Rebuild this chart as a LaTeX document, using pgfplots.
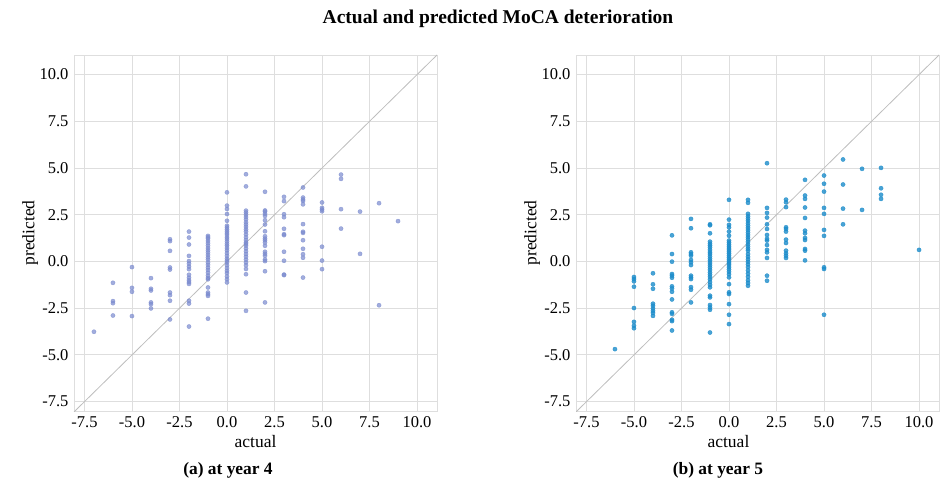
\documentclass[border=0pt]{standalone}
\usepackage{pgfplots}
\pgfplotsset{compat=1.18}
\usepackage{pgfplotstable}
\usepackage{fontspec}
\setmainfont{Liberation Serif}
\definecolor{ptA}{RGB}{122,138,206}
\definecolor{ptB}{RGB}{28,140,202}
\definecolor{gridc}{RGB}{222,222,222}
\definecolor{diagc}{RGB}{190,190,190}

\pgfplotstableread{
x y
-7 -3.76
-6 -1.14
-6 -2.12
-6 -2.23
-6 -2.89
-5 -0.30
-5 -1.41
-5 -1.62
-5 -2.92
-4 -0.89
-4 -1.46
-4 -1.55
-4 -2.19
-4 -2.28
-4 -2.51
-3 1.19
-3 1.09
-3 0.57
-3 -0.32
-3 -0.43
-3 -1.66
-3 -1.80
-3 -2.10
-3 -3.10
-2 1.60
-2 1.28
-2 0.91
-2 0.30
-2 0.02
-2 -0.12
-2 -0.27
-2 -0.41
-2 -0.71
-2 -0.87
-2 -1.00
-2 -1.10
-2 -1.20
-2 -2.10
-2 -2.25
-2 -3.48
-1 1.37
-1 1.30
-1 1.22
-1 1.10
-1 0.98
-1 0.85
-1 0.72
-1 0.60
-1 0.48
-1 0.35
-1 0.22
-1 0.10
-1 -0.05
-1 -0.18
-1 -0.32
-1 -0.45
-1 -0.60
-1 -0.75
-1 -0.88
-1 -0.95
-1 -1.39
-1 -1.66
-1 -1.75
-1 -1.84
-1 -3.06
0 3.70
0 2.99
0 2.81
0 2.54
0 2.18
0 1.91
0 1.82
0 1.72
0 1.62
0 1.52
0 1.42
0 1.30
0 1.20
0 1.08
0 0.95
0 0.85
0 0.72
0 0.60
0 0.45
0 0.30
0 0.15
0 0.05
0 -0.05
0 -0.20
0 -0.35
0 -0.50
0 -0.62
0 -0.80
0 -0.95
0 -1.12
1 4.67
1 4.02
1 2.72
1 2.62
1 2.50
1 2.38
1 2.25
1 2.10
1 1.98
1 1.85
1 1.72
1 1.60
1 1.45
1 1.30
1 1.15
1 1.02
1 0.94
1 0.84
1 0.70
1 0.55
1 0.40
1 0.25
1 0.10
1 -0.05
1 -0.20
1 -0.40
1 -0.68
1 -1.66
1 -2.64
2 3.73
2 2.73
2 2.67
2 2.55
2 2.44
2 2.21
2 1.98
2 1.62
2 1.35
2 1.22
2 1.14
2 1.02
2 0.84
2 0.52
2 0.41
2 0.30
2 0.10
2 0.02
2 -0.52
2 -2.19
3 3.46
3 3.23
3 2.53
3 2.37
3 1.75
3 1.46
3 1.41
3 0.52
3 0.04
3 -0.70
3 -0.73
4 3.96
4 3.42
4 3.32
4 3.24
4 3.06
4 2.00
4 1.59
4 1.53
4 1.14
4 0.68
4 0.39
4 0.20
4 -0.86
5 3.16
5 2.87
5 2.78
5 2.69
5 0.79
5 0.05
5 -0.41
6 4.65
6 4.42
6 2.80
6 1.76
7 2.67
7 0.41
8 3.12
8 -2.34
9 2.16
}\yearfour

\pgfplotstableread{
x y
-6 -4.69
-5 -0.83
-5 -0.94
-5 -1.06
-5 -1.35
-5 -2.49
-5 -3.23
-5 -3.44
-5 -3.57
-4 -0.63
-4 -1.22
-4 -1.46
-4 -2.26
-4 -2.37
-4 -2.51
-4 -2.64
-4 -2.75
-4 -2.91
-3 1.40
-3 0.40
-3 -0.01
-3 -0.67
-3 -0.76
-3 -0.87
-3 -1.33
-3 -1.44
-3 -1.62
-3 -2.03
-3 -2.72
-3 -2.80
-3 -3.12
-3 -3.19
-3 -3.69
-2 2.28
-2 1.78
-2 0.49
-2 0.40
-2 0.31
-2 0.08
-2 -0.04
-2 -0.19
-2 -0.76
-2 -0.85
-2 -0.94
-2 -1.37
-2 -1.51
-2 -2.19
-1 1.99
-1 1.94
-1 1.51
-1 1.06
-1 0.95
-1 0.85
-1 0.75
-1 0.62
-1 0.50
-1 0.40
-1 0.28
-1 0.15
-1 0.05
-1 -0.08
-1 -0.20
-1 -0.32
-1 -0.45
-1 -0.58
-1 -0.70
-1 -0.82
-1 -0.95
-1 -1.10
-1 -1.25
-1 -1.38
-1 -1.83
-1 -1.92
-1 -2.33
-1 -2.46
-1 -2.58
-1 -3.80
0 3.30
0 2.24
0 1.96
0 1.83
0 1.60
0 1.38
0 1.12
0 1.02
0 0.92
0 0.82
0 0.72
0 0.62
0 0.52
0 0.42
0 0.32
0 0.22
0 0.12
0 0.02
0 -0.08
0 -0.18
0 -0.30
0 -0.42
0 -0.55
0 -0.68
0 -0.85
0 -1.21
0 -1.65
0 -1.74
0 -2.28
0 -2.85
0 -3.35
1 3.30
1 3.14
1 2.55
1 2.42
1 2.30
1 2.18
1 2.05
1 1.92
1 1.80
1 1.68
1 1.55
1 1.42
1 1.30
1 1.18
1 1.05
1 0.92
1 0.80
1 0.68
1 0.58
1 0.40
1 0.25
1 0.12
1 -0.02
1 -0.15
1 -0.30
1 -0.48
1 -0.65
1 -0.82
1 -1.00
1 -1.15
1 -1.30
2 5.26
2 2.87
2 2.60
2 2.35
2 1.99
2 1.74
2 1.42
2 1.21
2 1.12
2 0.88
2 0.62
2 0.49
2 0.19
2 -0.76
2 -1.03
3 3.31
3 3.17
3 2.91
3 1.83
3 1.74
3 1.60
3 1.17
3 0.99
3 0.58
3 0.44
3 0.31
3 0.19
4 4.37
4 3.53
4 3.35
4 2.89
4 2.33
4 1.65
4 1.51
4 1.26
4 1.15
4 0.67
4 0.58
4 0.06
5 4.60
5 4.16
5 3.74
5 2.87
5 2.55
5 1.69
5 1.37
5 -0.31
5 -0.40
5 -2.85
6 5.46
6 4.12
6 2.83
6 1.99
7 4.96
7 2.76
8 5.01
8 3.92
8 3.57
8 3.35
10 0.62
}\yearfive

\pgfplotsset{
  mcstyle/.style={
    scale only axis,
    width=363pt, height=356pt,
    xmin=-8.05, xmax=11.05, ymin=-8.0, ymax=11.05,
    xtick={-7.5,-5,-2.5,0,2.5,5,7.5,10},
    ytick={-7.5,-5,-2.5,0,2.5,5,7.5,10},
    xticklabels={-7.5,-5.0,-2.5,0.0,2.5,5.0,7.5,10.0},
    yticklabels={-7.5,-5.0,-2.5,0.0,2.5,5.0,7.5,10.0},
    major tick length=0pt,
    grid=major,
    major grid style={gridc, line width=0.9pt},
    axis line style={gridc, line width=0.9pt},
    tick label style={font=\fontsize{16.5}{18}\selectfont, text=black},
    xticklabel style={yshift=-2pt},
    yticklabel style={xshift=-2pt},
    label style={font=\fontsize{17.5}{20}\selectfont},
    xlabel={actual}, ylabel={predicted},
    xlabel style={at={(axis description cs:0.5,-0.087)}, anchor=center},
    ylabel style={at={(axis description cs:-0.121,0.5)}, anchor=center},
    clip=true,
  }
}

\begin{document}
\begin{tikzpicture}
\useasboundingbox (0,0) rectangle (941pt,488pt);
\node[font=\bfseries\fontsize{19.5}{22}\selectfont] at (498pt,469pt) {Actual and predicted MoCA deterioration};
\begin{axis}[mcstyle, at={(74pt,77pt)}, anchor=south west]
\addplot[diagc, line width=0.8pt] coordinates {(-8.05,-8.05) (11.05,11.05)};
\addplot[only marks, mark=*, mark size=2.1pt, ptA, fill opacity=0.7, draw opacity=0.7, mark options={draw=ptA, fill=ptA}] table[x=x,y=y] {\yearfour};
\end{axis}
\begin{axis}[mcstyle, at={(576pt,77pt)}, anchor=south west,
  xlabel style={at={(axis description cs:0.42,-0.087)}, anchor=center}]
\addplot[diagc, line width=0.8pt] coordinates {(-8.05,-8.05) (11.05,11.05)};
\addplot[only marks, mark=*, mark size=2.1pt, ptB, fill opacity=0.8, draw opacity=0.8, mark options={draw=ptB, fill=ptB}] table[x=x,y=y] {\yearfive};
\end{axis}
\node[font=\bfseries\fontsize{17.4}{20}\selectfont] at (228pt,18pt) {(a) at year 4};
\node[font=\bfseries\fontsize{17.4}{20}\selectfont] at (718pt,18pt) {(b) at year 5};
\end{tikzpicture}
\end{document}
